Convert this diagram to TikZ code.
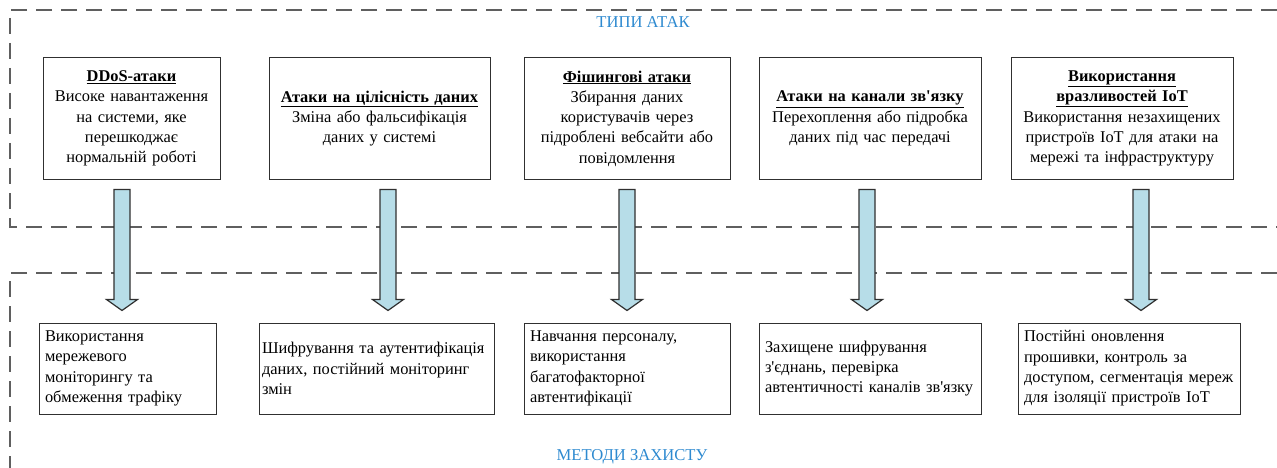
\documentclass[tikz,border=0pt]{standalone}
\usepackage{fontspec}
\setmainfont{Liberation Serif}
\usetikzlibrary{calc}
\definecolor{framegray}{HTML}{5F5F5F}
\definecolor{titleblue}{HTML}{2E8AD0}
\definecolor{arrowfill}{HTML}{B7DDE8}
\definecolor{boxline}{HTML}{303030}
\newcommand\hd[1]{\underline{\textbf{#1}}}
\newcommand\ap{\textquotesingle}
% block arrow from a top box to a bottom box along the vertical x = #1
\newcommand\blockarrow[3]{%
  \coordinate (#2-out) at ($(#1,0 |- #2.south)+(0,10)$);
  \coordinate (#3-in) at ($(#1,0 |- #3.north)+(0,-12)$);
  \draw[barrow] ($(#2-out)+(-8,0)$) -- ($(#2-out)+(8,0)$) -- ($(#3-in)+(8,-11)$)
    -- ($(#3-in)+(15.5,-11)$) -- (#3-in) -- ($(#3-in)+(-15.5,-11)$)
    -- ($(#3-in)+(-8,-11)$) -- cycle;}
\begin{document}
\begin{tikzpicture}[x=1pt,y=-1pt,
  frame/.style={draw=framegray,line width=1.3pt,dash pattern=on 16pt off 9pt},
  title/.style={text=titleblue,font=\fontsize{16.6}{20.5}\selectfont,inner sep=0pt},
  attack/.style={draw=boxline,line width=1pt,minimum height=121pt,inner xsep=5pt,inner ysep=0pt,
    align=center,font=\fontsize{16.4}{20.3}\selectfont},
  defence/.style={draw=boxline,line width=1pt,minimum height=91pt,inner xsep=6pt,inner ysep=0pt,
    align=left,font=\fontsize{16.4}{20.3}\selectfont},
  barrow/.style={draw=boxline,fill=arrowfill,line width=1.2pt,line join=miter}]
\useasboundingbox (0,0) rectangle (1277,468);

% dashed group frames, open on the right
\draw[frame] (1277,10) -- (10,10) -- (10,227) -- (1277,227);
\draw[frame] (1277,273) -- (10,273) -- (10,468);
\node[title] (ttop) at (643,22) {ТИПИ АТАК};
\node[title] (tbot) at (632,457) {МЕТОДИ ЗАХИСТУ};

% attack types
\node[attack,text width=167pt] (t1) at (131.5,118.5) {\hd{DDoS-атаки}\\Високе навантаження\\на системи, яке\\перешкоджає\\нормальній роботі};
\node[attack,text width=211pt] (t2) at (379.5,118.5) {\hd{Атаки на цілісність даних}\\Зміна або фальсифікація\\даних у системі};
\node[attack,text width=196pt] (t3) at (627,118.5) {\hd{Фішингові атаки}\\Збирання даних\\користувачів через\\підроблені вебсайти або\\повідомлення};
\node[attack,text width=212pt] (t4) at (870,118.5) {\hd{Атаки на канали зв\ap язку}\\Перехоплення або підробка\\даних під час передачі};
\node[attack,text width=212pt] (t5) at (1122,118.5) {\hd{Використання}\\\hd{вразливостей IoT}\\Використання незахищених\\пристроїв IoT для атаки на\\мережі та інфраструктуру};

% protection methods
\node[defence,text width=165pt] (b1) at (127.5,368.5) {Використання\\мережевого\\моніторингу та\\обмеження трафіку};
\node[defence,inner xsep=3pt,text width=229pt] (b2) at (376.5,368.5) {Шифрування та аутентифікація\\даних, постійний моніторинг\\змін};
\node[defence,text width=194pt] (b3) at (627,368.5) {Навчання персоналу,\\використання\\багатофакторної\\автентифікації};
\node[defence,text width=210pt] (b4) at (870,368.5) {Захищене шифрування\\з\ap єднань, перевірка\\автентичності каналів зв\ap язку};
\node[defence,text width=210pt] (b5) at (1129,368.5) {Постійні оновлення\\прошивки, контроль за\\доступом, сегментація мереж\\для ізоляції пристроїв IoT};

% arrows from each attack to its defence
\blockarrow{122}{t1}{b1}
\blockarrow{388}{t2}{b2}
\blockarrow{627}{t3}{b3}
\blockarrow{867}{t4}{b4}
\blockarrow{1141}{t5}{b5}
\end{tikzpicture}
\end{document}
